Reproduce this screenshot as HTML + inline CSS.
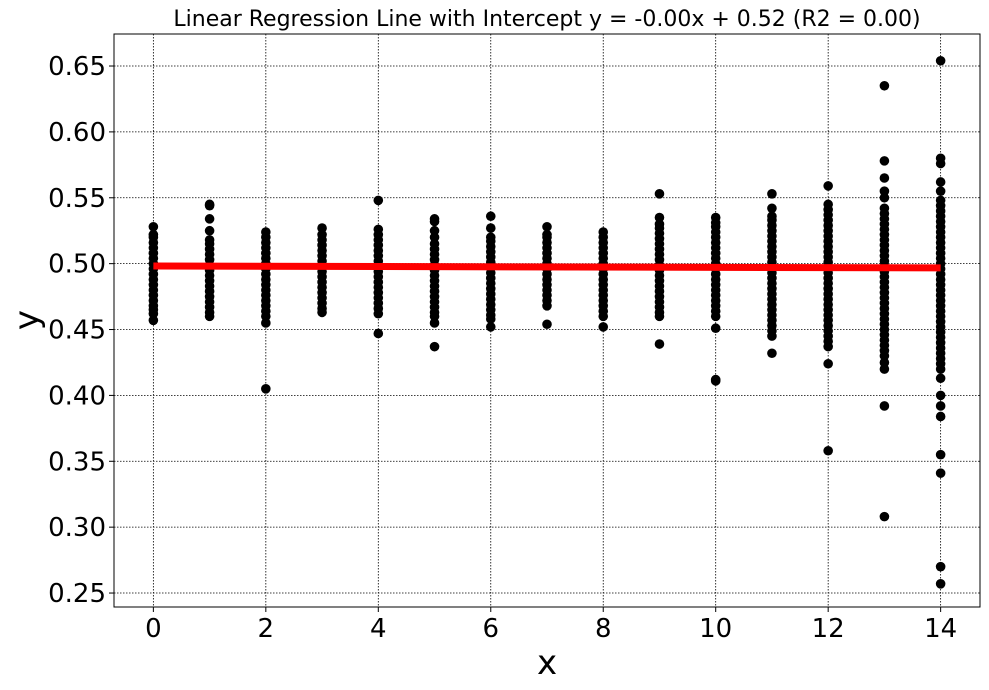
<!DOCTYPE html>
<html><head><meta charset="utf-8"><style>
html,body{margin:0;padding:0;background:#fff;}
svg{display:block;font-family:"DejaVu Sans","Liberation Sans",sans-serif;}
</style></head><body>
<svg id="chart" width="989" height="690" viewBox="0 0 989 690" xmlns="http://www.w3.org/2000/svg">
<text x="547" y="26" font-size="22" text-anchor="middle">Linear Regression Line with Intercept y = -0.00x + 0.52 (R2 = 0.00)</text>
<g id="grid"></g>
<g id="points"></g>
<g id="line"></g>
<rect x="114" y="34" width="866" height="573" fill="none" stroke="#000" stroke-width="1"/>
<g id="ticks"></g>
<text x="547" y="674" font-size="34" text-anchor="middle">x</text>
<text transform="translate(38,320) rotate(-90)" font-size="34" text-anchor="middle">y</text>
</svg>
<script>
const xTicks=[0,2,4,6,8,10,12,14];
const yTicks=[0.25,0.30,0.35,0.40,0.45,0.50,0.55,0.60,0.65];
const yTickLabels=["0.25","0.30","0.35","0.40","0.45","0.50","0.55","0.60","0.65"];
const categories=[0,1,2,3,4,5,6,7,8,9,10,11,12,13,14];
const y0=[0.457,0.462,0.465,0.468,0.472,0.476,0.480,0.484,0.488,0.492,0.496,0.500,0.504,0.508,0.512,0.516,0.520,0.522,0.528];
const y1=[0.460,0.463,0.467,0.471,0.475,0.479,0.483,0.487,0.491,0.495,0.499,0.503,0.507,0.511,0.515,0.518,0.525,0.534,0.544,0.545];
const y2=[0.405,0.455,0.460,0.464,0.468,0.472,0.476,0.480,0.484,0.488,0.492,0.496,0.500,0.504,0.508,0.512,0.516,0.520,0.524];
const y3=[0.463,0.466,0.470,0.474,0.478,0.482,0.486,0.490,0.494,0.498,0.502,0.506,0.510,0.514,0.518,0.522,0.527];
const y4=[0.447,0.462,0.466,0.470,0.474,0.478,0.482,0.486,0.490,0.494,0.498,0.502,0.506,0.510,0.514,0.518,0.522,0.526,0.548];
const y5=[0.437,0.455,0.460,0.463,0.467,0.471,0.475,0.479,0.483,0.487,0.491,0.495,0.499,0.503,0.507,0.511,0.515,0.520,0.525,0.532,0.534];
const y6=[0.452,0.458,0.461,0.465,0.469,0.473,0.477,0.481,0.485,0.489,0.493,0.497,0.501,0.505,0.509,0.513,0.517,0.520,0.527,0.536];
const y7=[0.454,0.468,0.472,0.476,0.480,0.484,0.488,0.492,0.496,0.500,0.504,0.508,0.512,0.516,0.520,0.522,0.528];
const y8=[0.452,0.460,0.464,0.468,0.472,0.476,0.480,0.484,0.488,0.492,0.496,0.500,0.504,0.508,0.512,0.516,0.520,0.524];
const y9=[0.439,0.460,0.463,0.467,0.471,0.475,0.479,0.483,0.487,0.491,0.495,0.499,0.503,0.507,0.511,0.515,0.519,0.523,0.527,0.530,0.535,0.553];
const y10=[0.411,0.412,0.451,0.460,0.464,0.468,0.472,0.476,0.480,0.484,0.488,0.492,0.496,0.500,0.504,0.508,0.512,0.516,0.520,0.524,0.528,0.531,0.535];
const y11=[0.432,0.445,0.449,0.453,0.457,0.461,0.465,0.469,0.473,0.477,0.481,0.485,0.489,0.493,0.497,0.501,0.505,0.509,0.513,0.517,0.521,0.525,0.529,0.533,0.536,0.542,0.553];
const y12=[0.358,0.424,0.437,0.441,0.445,0.449,0.453,0.457,0.461,0.465,0.469,0.473,0.477,0.481,0.485,0.489,0.493,0.497,0.501,0.505,0.509,0.513,0.517,0.521,0.525,0.529,0.533,0.537,0.541,0.545,0.559];
const y13=[0.308,0.392,0.420,0.425,0.430,0.434,0.438,0.442,0.446,0.450,0.454,0.458,0.462,0.466,0.470,0.474,0.478,0.482,0.486,0.490,0.494,0.498,0.502,0.506,0.510,0.514,0.518,0.522,0.526,0.530,0.534,0.538,0.542,0.550,0.555,0.565,0.578,0.635];
const y14=[0.257,0.270,0.341,0.355,0.384,0.392,0.400,0.413,0.420,0.424,0.428,0.432,0.436,0.440,0.444,0.448,0.452,0.456,0.460,0.464,0.468,0.472,0.476,0.480,0.484,0.488,0.492,0.496,0.500,0.504,0.508,0.512,0.516,0.520,0.524,0.528,0.532,0.536,0.540,0.544,0.548,0.555,0.562,0.576,0.580,0.654];
const seriesY=[y0,y1,y2,y3,y4,y5,y6,y7,y8,y9,y10,y11,y12,y13,y14];
const slope=-0.0001;
const intercept=0.4982;

const L=114,R=980,T=34,B=607;
const xMin=-0.7,xMax=14.7,yMin=0.2394,yMax=0.6743;
const xs=v=>L+(v-xMin)/(xMax-xMin)*(R-L);
const ys=v=>B-(v-yMin)/(yMax-yMin)*(B-T);
const NS="http://www.w3.org/2000/svg";
function mk(tag,attrs,parent){const e=document.createElementNS(NS,tag);for(const k in attrs)e.setAttribute(k,attrs[k]);parent.appendChild(e);return e;}
const grid=document.getElementById('grid'),ticks=document.getElementById('ticks'),pts=document.getElementById('points'),ln=document.getElementById('line');
xTicks.forEach(v=>{
  const x=xs(v);
  const g=mk('line',{x1:x,x2:x,y1:T,y2:B,stroke:'#000','stroke-width':0.8,'stroke-dasharray':'1.5,1.5'},grid);
  
  
  const t=mk('line',{x1:x,x2:x,y1:B,y2:B+5,stroke:'#000'},ticks);
  
  
  const l=mk('text',{x:x,y:B+30,'font-size':26,'text-anchor':'middle'},ticks);
  l.textContent=v;
  
  
});
yTicks.forEach((v,i)=>{
  const y=ys(v);
  const g=mk('line',{x1:L,x2:R,y1:y,y2:y,stroke:'#000','stroke-width':0.8,'stroke-dasharray':'1.5,1.5'},grid);
  
  
  const t=mk('line',{x1:L-5,x2:L,y1:y,y2:y,stroke:'#000'},ticks);
  
  
  const l=mk('text',{x:L-8,y:y+9,'font-size':26,'text-anchor':'end'},ticks);
  l.textContent=yTickLabels[i];
  
  
});
categories.forEach((c,i)=>{
  seriesY[i].forEach(v=>{
    const p=mk('circle',{cx:xs(c),cy:ys(v),r:4.8,fill:'#000'},pts);
    
    
  });
});
const x0=categories[0],x1=categories[categories.length-1];
const rl=mk('line',{x1:xs(x0),y1:ys(intercept+slope*x0),x2:xs(x1),y2:ys(intercept+slope*x1),stroke:'#ff0000','stroke-width':7},ln);


</script>
</body></html>
